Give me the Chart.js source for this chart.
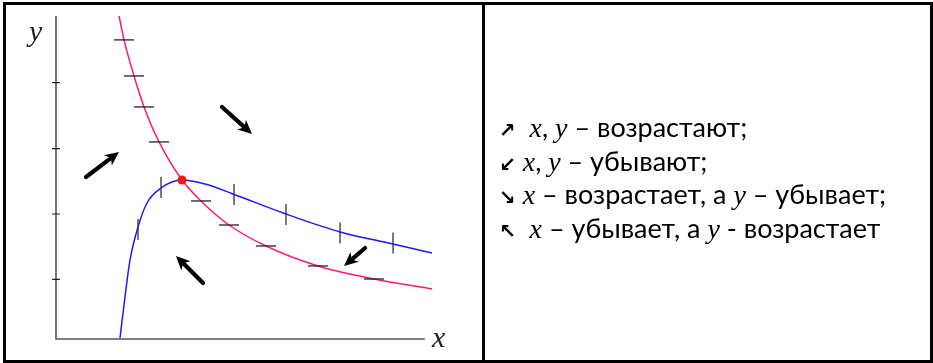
<!DOCTYPE html>
<html><head><meta charset="utf-8">
<script src="https://cdn.jsdelivr.net/npm/chart.js@4/dist/chart.umd.min.js"></script>
<style>
html,body{margin:0;padding:0;background:#fff;width:933px;height:363px;overflow:hidden;position:relative}
#c{position:absolute;left:0;top:0}
.frame{position:absolute;left:3px;top:2px;width:930px;height:361px;box-sizing:border-box;border:3px solid #000}
.sep{position:absolute;left:482px;top:2px;width:3px;height:361px;background:#000}
.ax{position:absolute;font-family:"Liberation Serif";font-style:italic;font-size:30px;line-height:30px;color:#222}
.ln{position:absolute;left:499px;font-family:Lato;font-size:27px;line-height:33.5px;white-space:nowrap;color:#000}
.ln i{font-family:"Liberation Serif";font-size:28px}
.ar{font-family:"DejaVu Sans";font-size:20px;font-weight:bold}
</style></head><body>
<canvas id="c" width="933" height="363"></canvas>
<div class="frame"></div>
<div class="sep"></div>
<div class="ax" style="left:29px;top:16px">y</div>
<div class="ax" style="left:432px;top:322px">x</div>
<div class="ln" style="top:110px"><span class="ar">↗</span>&nbsp; <i>x</i>, <i>y</i> – возрастают;</div>
<div class="ln" style="top:144px"><span class="ar">↙</span> <i>x</i>, <i>y</i> – убывают;</div>
<div class="ln" style="top:177px"><span class="ar">↘</span> <i>x</i> – возрастает, а <i>y</i> – убывает;</div>
<div class="ln" style="top:211px"><span class="ar">↖</span>&nbsp; <i>x</i> – убывает, а <i>y</i> - возрастает</div>
<script>
// Pink isocline
const pinkX = [0.962, 1.038, 1.191, 1.344, 1.573, 1.924, 2.214, 2.641, 3.206, 4.000, 4.855, 5.740];
const pinkY = [4.930, 4.565, 4.015, 3.542, 3.008, 2.427, 2.107, 1.740, 1.420, 1.115, 0.916, 0.763];
// Blue isocline
const blueX = [0.977, 1.053, 1.130, 1.252, 1.389, 1.603, 1.924, 2.275, 2.702, 3.511, 4.336, 5.145, 5.740];
const blueY = [0.015, 0.641, 1.206, 1.710, 2.076, 2.305, 2.427, 2.366, 2.214, 1.908, 1.634, 1.450, 1.313];
// Horizontal direction marks on pink curve
const pinkTickX = [1.038, 1.191, 1.344, 1.573, 2.214, 2.641, 3.206, 4.000, 4.855];
const pinkTickY = [4.565, 4.015, 3.542, 3.008, 2.107, 1.740, 1.420, 1.115, 0.916];
// Vertical direction marks on blue curve
const blueTickX = [1.252, 1.603, 2.718, 3.511, 4.336, 5.145];
const blueTickY = [1.672, 2.313, 2.206, 1.901, 1.618, 1.466];
// Equilibrium point
const eqX = [1.924];
const eqY = [2.427];
// Direction arrows (start -> end)
const arrowX0 = [0.458, 2.534, 2.244, 4.718];
const arrowY0 = [2.473, 3.542, 0.855, 1.389];
const arrowX1 = [0.962, 2.992, 1.832, 4.397];
const arrowY1 = [2.855, 3.130, 1.267, 1.115];
// Y axis tick values
const yTicks = [0.911, 1.908, 2.905, 3.913];
const xAxisEnd = 5.63;
const yAxisTop = 4.93;

const pts = (xs, ys) => xs.map((v, i) => ({x: v, y: ys[i]}));

const deco = {
  id: 'deco',
  beforeDatasetsDraw(chart) {
    const {ctx, scales: {x, y}} = chart;
    ctx.save();
    ctx.strokeStyle = '#555';
    ctx.lineWidth = 1.6;
    ctx.beginPath();
    const x0 = x.getPixelForValue(0), y0 = y.getPixelForValue(0);
    ctx.moveTo(x0, y.getPixelForValue(yAxisTop));
    ctx.lineTo(x0, y0);
    ctx.lineTo(x.getPixelForValue(xAxisEnd), y0);
    ctx.stroke();
    ctx.strokeStyle = '#222';
    ctx.lineWidth = 1.2;
    ctx.beginPath();
    yTicks.forEach(v => {
      const py = y.getPixelForValue(v);
      ctx.moveTo(x0 - 4, py);
      ctx.lineTo(x0 + 4, py);
    });
    ctx.stroke();
    ctx.restore();
  },
  afterDatasetsDraw(chart) {
    const {ctx, scales: {x, y}} = chart;
    ctx.save();
    ctx.fillStyle = '#000';
    ctx.strokeStyle = '#000';
    ctx.lineWidth = 4.2;
    ctx.lineCap = 'round';
    arrowX0.forEach((v, i) => {
      const sx = x.getPixelForValue(v), sy = y.getPixelForValue(arrowY0[i]);
      const ex = x.getPixelForValue(arrowX1[i]), ey = y.getPixelForValue(arrowY1[i]);
      const a = Math.atan2(ey - sy, ex - sx);
      const L = 14, W = 6.5;
      const bx = ex - Math.cos(a) * (L - 3), by = ey - Math.sin(a) * (L - 3);
      ctx.beginPath();
      ctx.moveTo(sx, sy);
      ctx.lineTo(bx, by);
      ctx.stroke();
      ctx.beginPath();
      ctx.moveTo(ex, ey);
      ctx.lineTo(ex - Math.cos(a) * L - Math.sin(a) * W, ey - Math.sin(a) * L + Math.cos(a) * W);
      ctx.lineTo(ex - Math.cos(a) * (L - 4), ey - Math.sin(a) * (L - 4));
      ctx.lineTo(ex - Math.cos(a) * L + Math.sin(a) * W, ey - Math.sin(a) * L - Math.cos(a) * W);
      ctx.closePath();
      ctx.fill();
    });
    ctx.restore();
  }
};

new Chart(document.getElementById('c'), {
  type: 'scatter',
  data: {
    datasets: [
      {data: pts(eqX, eqY), order: 0, pointRadius: 4.5, backgroundColor: '#ff1010', borderColor: '#ff1010', borderWidth: 0, clip: false},
      {data: pts(pinkTickX, pinkTickY), order: 1, pointStyle: 'line', pointRadius: 10, borderColor: '#222', borderWidth: 1.3, clip: false},
      {data: pts(blueTickX, blueTickY), order: 1, pointStyle: 'line', rotation: 90, pointRadius: 10.5, borderColor: '#333', borderWidth: 1.3, clip: false},
      {data: pts(pinkX, pinkY), order: 2, showLine: true, cubicInterpolationMode: 'monotone', pointRadius: 0, borderColor: '#ff1a78', borderWidth: 1.5, clip: false},
      {data: pts(blueX, blueY), order: 2, showLine: true, cubicInterpolationMode: 'monotone', pointRadius: 0, borderColor: '#1a1aff', borderWidth: 1.5, clip: false}
    ]
  },
  options: {
    responsive: false,
    animation: false,
    devicePixelRatio: 1,
    events: [],
    layout: {padding: {left: 56, top: 16, right: 501, bottom: 24}},
    plugins: {legend: {display: false}, tooltip: {enabled: false}},
    scales: {
      x: {type: 'linear', min: 0, max: 5.74, display: false},
      y: {type: 'linear', min: 0, max: 4.93, display: false}
    }
  },
  plugins: [deco]
});
</script>
</body></html>
